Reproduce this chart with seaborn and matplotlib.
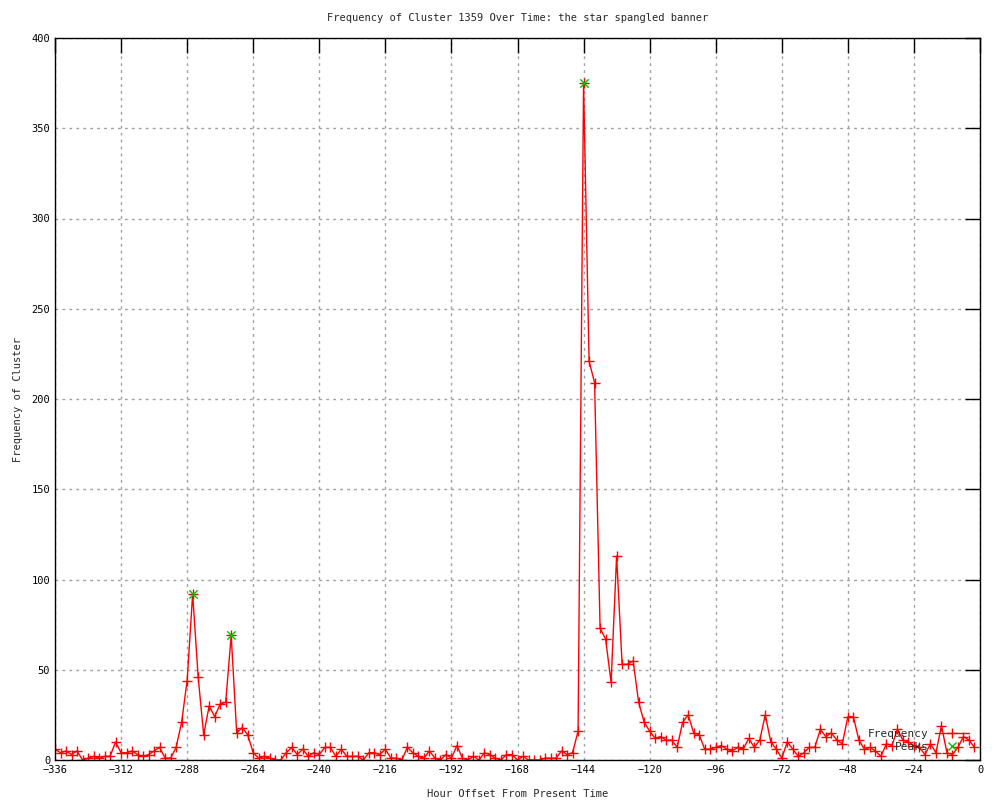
import numpy as np
import pandas as pd
import seaborn as sns
import matplotlib
matplotlib.use("Agg")
import matplotlib.pyplot as plt
from matplotlib.lines import Line2D

# hourly offsets (2 h bins) and cluster frequency
hours = np.arange(-336, 0, 2)
freq = [6, 4, 5, 3, 5, 0, 1, 2, 1, 2, 2, 10, 4, 4, 5, 3, 2, 3, 5, 7,
        1, 1, 7, 21, 44, 92, 46, 14, 30, 24, 31, 32, 69, 15, 18, 14, 4, 1, 2, 1,
        0, 0, 4, 7, 3, 6, 2, 4, 3, 7, 7, 2, 6, 2, 2, 2, 0, 4, 4, 3,
        6, 1, 1, 0, 7, 4, 2, 1, 5, 1, 0, 3, 1, 8, 1, 0, 2, 0, 4, 3,
        1, 0, 3, 3, 0, 2, 0, 0, 0, 1, 1, 1, 5, 3, 4, 16, 375, 221, 209, 73,
        67, 43, 113, 53, 53, 55, 32, 21, 16, 12, 13, 11, 11, 7, 21, 25, 15, 14, 6, 6,
        7, 8, 6, 5, 7, 6, 12, 7, 11, 25, 10, 6, 1, 10, 6, 2, 4, 7, 7, 17,
        13, 15, 11, 9, 24, 24, 11, 6, 7, 5, 2, 9, 8, 17, 11, 10, 8, 7, 3, 9,
        4, 19, 4, 3, 7, 13, 11, 7]

peak_hours = [-286, -272, -144]
peak_freq = [92, 69, 375]

df = pd.DataFrame({"hour": hours, "freq": freq})
peaks = pd.DataFrame({"hour": peak_hours, "freq": peak_freq})

sns.set_style("white")
plt.rcParams["font.family"] = ["DejaVu Sans Mono"]

fig = plt.figure(figsize=(10, 8), dpi=100)
ax = fig.add_axes([0.055, 0.05, 0.925, 0.9025])

red = "#ff0000"
green = "#00c000"

sns.lineplot(data=df, x="hour", y="freq", ax=ax, color=red, linewidth=1,
             marker="+", markersize=6.5, markeredgewidth=1, markeredgecolor=red)
sns.scatterplot(data=peaks, x="hour", y="freq", ax=ax, color=green,
                marker="x", s=36, linewidth=1, zorder=3)

ax.set_xlim(-336, 0)
ax.set_ylim(0, 400)
ax.set_xticks(np.arange(-336, 1, 24))
ax.set_yticks(np.arange(0, 401, 50))
ax.tick_params(direction="in", length=11, width=1, labelsize=7.5,
               top=True, right=True, colors="black")
ax.grid(True, color="#a0a0a0", linestyle=(0, (2, 3)), linewidth=1)
for s in ax.spines.values():
    s.set_color("black")
    s.set_linewidth(1)

ax.set_title("Frequency of Cluster 1359 Over Time: the star spangled banner",
             fontsize=7.5, pad=12)
ax.set_xlabel("Hour Offset From Present Time", fontsize=7.5, labelpad=10)
ax.set_ylabel("Frequency of Cluster", fontsize=7.5, labelpad=6)

handles = [
    Line2D([], [], color=red, linewidth=1, marker="+", markersize=6.5),
    Line2D([], [], color=green, linestyle="none", marker="x", markersize=6),
]
leg = ax.legend(handles, ["Frequency", "Peaks"], loc="lower right",
                bbox_to_anchor=(0.995, 0.002), frameon=False, markerfirst=False,
                fontsize=8, handlelength=3.0, labelspacing=0.3,
                handletextpad=0.6, borderaxespad=0.2)

fig.savefig("out.png", dpi=100)
